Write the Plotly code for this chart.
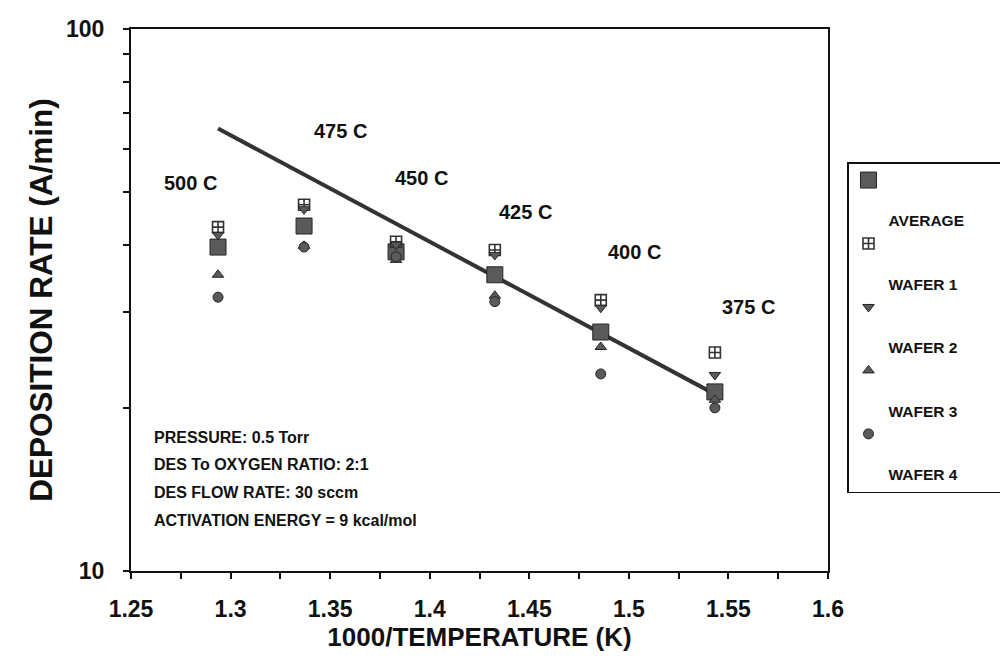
import math
import plotly.graph_objects as go

# ---- data ----
temp_labels = ["500 C", "475 C", "450 C", "425 C", "400 C", "375 C"]
inv_temp = [1.2937, 1.3369, 1.3831, 1.4327, 1.4859, 1.5432]   # 1000/T (K)
average = [39.6, 43.3, 38.8, 35.2, 27.6, 21.4]
wafer1 = [43.1, 47.4, 40.5, 39.1, 31.6, 25.3]
wafer2 = [41.7, 46.5, 40.0, 38.3, 30.6, 23.0]
wafer3 = [35.2, 39.8, 37.5, 32.2, 25.9, 20.7]
wafer4 = [32.0, 39.6, 38.0, 31.4, 23.1, 20.0]
fit_x = [1.2937, 1.5432]
fit_y = [65.5, 21.2]
x_ticks = [1.25, 1.3, 1.35, 1.4, 1.45, 1.5, 1.55, 1.6]
x_ticktext = ["1.25", "1.3", "1.35", "1.4", "1.45", "1.5", "1.55", "1.6"]
x_minor = [1.275, 1.325, 1.375, 1.425, 1.475, 1.525, 1.575]
y_ticks = [10, 100]
y_ticktext = ["10", "100"]
y_minor = [20, 30, 40, 50, 60, 70, 80, 90]
legend_names = ["AVERAGE", "WAFER 1", "WAFER 2", "WAFER 3", "WAFER 4"]
info_lines = [
    "PRESSURE: 0.5 Torr",
    "DES To OXYGEN RATIO: 2:1",
    "DES FLOW RATE: 30 sccm",
    "ACTIVATION ENERGY = 9 kcal/mol",
]
# label anchor positions (x in 1000/T, y in A/min)
label_x = [1.2801, 1.3554, 1.3961, 1.4483, 1.5030, 1.5602]
label_y = [52.0, 64.8, 53.1, 46.0, 38.8, 30.7]

FONT = "Liberation Sans, Arial, sans-serif"
INK = "#111111"
GRAY = "#5a5a5a"
EDGE = "#262626"


def bold(s):
    return "<b>" + s + "</b>"


def px_x(px):   # page pixel -> paper x (plot area spans 131..828)
    return (px - 131) / 697


def px_y(py):   # page pixel -> paper y (plot area spans 29..571)
    return (571 - py) / 542


fig = go.Figure()

fig.add_trace(go.Scatter(
    x=fit_x, y=fit_y, mode="lines", showlegend=False,
    line=dict(color="#333333", width=4), hoverinfo="skip"))

series = [average, wafer1, wafer2, wafer3, wafer4]
markers = [
    dict(symbol="square", size=16, color=GRAY, line=dict(color=EDGE, width=1)),
    dict(symbol="square-cross-open", size=11, color="#333333", line=dict(width=1.6)),
    dict(symbol="triangle-down", size=10, color=GRAY, line=dict(color=EDGE, width=1)),
    dict(symbol="triangle-up", size=10, color=GRAY, line=dict(color=EDGE, width=1)),
    dict(symbol="circle", size=10, color=GRAY, line=dict(color=EDGE, width=1)),
]
for i, (name, ys, mk) in enumerate(zip(legend_names, series, markers)):
    pad = "&nbsp;" * 8 if i == 0 else ""
    fig.add_trace(go.Scatter(
        x=inv_temp, y=ys, mode="markers", marker=mk,
        name="&nbsp;<br>&nbsp;<br>" + bold(name) + pad))

annotations = []
for t, lx, ly in zip(temp_labels, label_x, label_y):
    annotations.append(dict(
        x=lx, y=math.log10(ly), xref="x", yref="y", text=bold(t), showarrow=False,
        font=dict(family=FONT, size=20, color=INK), xanchor="center", yanchor="middle"))

for i, line in enumerate(info_lines):
    annotations.append(dict(
        x=px_x(152), y=px_y(437 + i * 27.7), xref="paper", yref="paper",
        text=bold(line), showarrow=False, xanchor="left", yanchor="middle",
        font=dict(family=FONT, size=16, color=INK)))

fig.update_layout(
    width=1000, height=660,
    margin=dict(l=123, r=180, t=21, b=97, autoexpand=False),
    paper_bgcolor="white", plot_bgcolor="white",
    font=dict(family=FONT, color=INK),
    showlegend=True,
    legend=dict(
        x=px_x(847), y=px_y(162), xanchor="left", yanchor="top",
        bgcolor="white", bordercolor=INK, borderwidth=1.5,
        font=dict(family=FONT, size=15.5, color=INK),
        valign="top", itemwidth=30),
    annotations=annotations,
)

fig.update_xaxes(
    range=[1.25, 1.6], tickmode="array", tickvals=x_ticks,
    ticktext=[bold(t) for t in x_ticktext],
    showgrid=False, zeroline=False,
    showline=True, linecolor=INK, linewidth=2, mirror=True,
    ticks="outside", ticklen=6, tickwidth=1.5, tickcolor=INK,
    minor=dict(tickvals=x_minor, ticks="outside", ticklen=6, tickwidth=1.5,
               tickcolor=INK, showgrid=False),
    tickfont=dict(family=FONT, size=23, color=INK),
    ticklabelstandoff=10,
    title=dict(text=bold("1000/TEMPERATURE (K)"), font=dict(family=FONT, size=26, color=INK),
               standoff=4),
)

fig.update_yaxes(
    type="log", range=[1, 2], tickmode="array", tickvals=y_ticks,
    ticktext=[bold(t) for t in y_ticktext],
    showgrid=False, zeroline=False,
    showline=True, linecolor=INK, linewidth=2, mirror=True,
    ticks="outside", ticklen=6, tickwidth=1.5, tickcolor=INK,
    minor=dict(tickvals=y_minor, ticks="outside", ticklen=6, tickwidth=1.5,
               tickcolor=INK, showgrid=False),
    tickfont=dict(family=FONT, size=23, color=INK),
    ticklabelstandoff=14,
    title=dict(text=bold("DEPOSITION RATE (A/min)"), font=dict(family=FONT, size=31.5, color=INK),
               standoff=4),
)

fig.write_html("out.html")
